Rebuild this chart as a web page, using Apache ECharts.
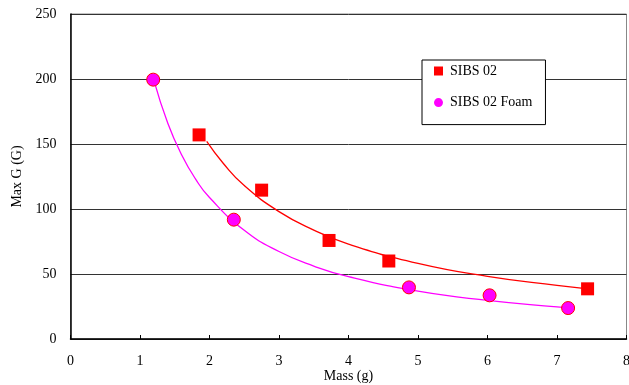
<!DOCTYPE html>
<html lang="en">
  <head>
    <meta charset="UTF-8" />
    <title>Max G vs Mass</title>
    <script src="https://cdn.jsdelivr.net/npm/echarts@6/dist/echarts.min.js"></script>
  </head>

  <body style="margin: 0; background: #fff">
    <div id="main" style="width: 629px; height: 385px"></div>
    <script type="text/javascript">
      // measured points
      var sibsMass = [1.85, 2.75, 3.72, 4.58, 7.44];
      var sibsMaxG = [157, 114.5, 75.8, 60, 38.6];
      var foamMass = [1.19, 2.35, 4.87, 6.03, 7.16];
      var foamMaxG = [199.5, 91.8, 39.7, 33.6, 23.8];

      // trend curves
      var sibsTrendX = [1.96, 2.2, 2.5, 3, 3.5, 4, 5, 6, 7, 7.38];
      var sibsTrendY = [152, 135, 118, 98, 83.8, 73, 58.2, 48.2, 41.2, 39];
      var foamTrendX = [1.2, 1.4, 1.6, 1.8, 2, 2.5, 3, 3.5, 4, 5, 6, 7, 7.17];
      var foamTrendY = [199, 166, 141.6, 123, 108.8, 83.6, 67.3, 56.1, 47.9, 36.8, 29.7, 24.7, 24];

      function pairs(xs, ys) {
        var out = [];
        for (var i = 0; i < xs.length; i++) out.push([xs[i], ys[i]]);
        return out;
      }

      var font = "Liberation Serif";
      var myChart = echarts.init(document.getElementById("main"));
      var option = {
        animation: false,
        textStyle: { fontFamily: font },
        grid: {
          left: 70.5,
          right: 2.5,
          top: 14,
          bottom: 46,
          containLabel: false,
          outerBoundsMode: "none",
          show: true,
          borderColor: "#888",
          borderWidth: 1,
        },
        legend: {
          orient: "vertical",
          left: 422,
          top: 60,
          padding: [4, 13, 15, 12],
          itemGap: 17.6,
          itemWidth: 9,
          itemHeight: 9,
          itemStyle: { borderWidth: 0 },
          backgroundColor: "#fff",
          borderColor: "#000",
          borderWidth: 1,
          textStyle: { fontFamily: font, fontSize: 14, color: "#000", padding: [0, 0, 0, 2] },
          data: [
            { name: "SIBS 02", icon: "rect" },
            { name: "SIBS 02 Foam", icon: "circle" },
          ],
        },
        xAxis: {
          type: "value",
          min: 0,
          max: 8,
          interval: 1,
          name: "Mass (g)",
          nameLocation: "middle",
          nameGap: 30,
          nameMoveOverlap: false,
          nameTextStyle: { fontFamily: font, fontSize: 14, color: "#000" },
          axisLine: { lineStyle: { color: "#000", width: 1.5 } },
          axisTick: { inside: true, length: 4, lineStyle: { color: "#000" } },
          axisLabel: { fontFamily: font, fontSize: 14, color: "#000", margin: 15 },
          splitLine: { show: false },
        },
        yAxis: {
          type: "value",
          min: 0,
          max: 250,
          interval: 50,
          name: "Max G (G)",
          nameLocation: "middle",
          nameGap: 46,
          nameMoveOverlap: false,
          nameTextStyle: { fontFamily: font, fontSize: 14, color: "#000" },
          axisLine: { show: true, lineStyle: { color: "#000", width: 1.5 } },
          axisTick: { show: false },
          axisLabel: { fontFamily: font, fontSize: 14, color: "#000", margin: 14 },
          splitLine: { lineStyle: { color: "#333", width: 1 } },
        },
        series: [
          {
            name: "SIBS 02 trend",
            type: "line",
            smooth: true,
            showSymbol: false,
            data: pairs(sibsTrendX, sibsTrendY),
            lineStyle: { color: "#ff0000", width: 1.3 },
            z: 2,
          },
          {
            name: "SIBS 02 Foam trend",
            type: "line",
            smooth: true,
            showSymbol: false,
            data: pairs(foamTrendX, foamTrendY),
            lineStyle: { color: "#ff00ff", width: 1.3 },
            z: 2,
          },
          {
            name: "SIBS 02",
            type: "scatter",
            symbol: "rect",
            symbolSize: 13,
            data: pairs(sibsMass, sibsMaxG),
            itemStyle: { color: "#ff0000", opacity: 1 },
            z: 3,
          },
          {
            name: "SIBS 02 Foam",
            type: "scatter",
            symbol: "circle",
            symbolSize: 13,
            data: pairs(foamMass, foamMaxG),
            itemStyle: { color: "#ff00ff", borderColor: "#ff0000", borderWidth: 1, opacity: 1 },
            z: 3,
          },
        ],
      };
      myChart.setOption(option);
    </script>
  </body>
</html>
